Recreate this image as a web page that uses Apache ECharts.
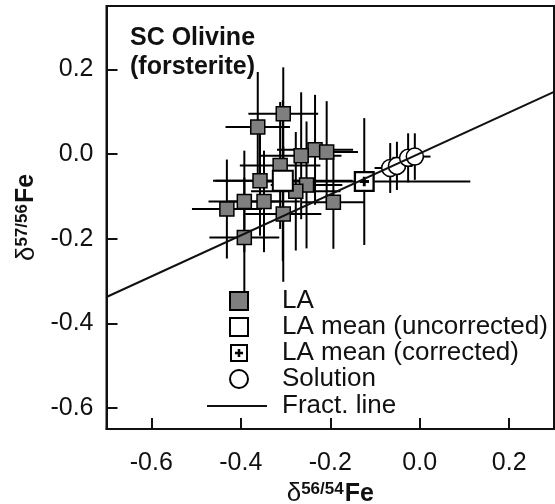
<!DOCTYPE html>
<html>
<head>
<meta charset="utf-8">
<script src="https://cdn.jsdelivr.net/npm/echarts@6/dist/echarts.min.js"></script>
<style>html,body{margin:0;padding:0;background:#fff;}#c{width:555px;height:504px;}</style>
</head>
<body>
<div id="c"></div>
<script>
// LA spot analyses
const laX = [-0.305,-0.362,-0.312,-0.357,-0.392,-0.348,-0.431,-0.305,-0.392,-0.234,-0.208,-0.253,-0.193,-0.265,-0.277];
const laY = [0.095,0.064,-0.027,-0.063,-0.112,-0.112,-0.130,-0.142,-0.197,0.010,0.005,-0.073,-0.114,-0.004,-0.088];
const laXErr = [0.078,0.072,0.090,0.100,0.080,0.080,0.078,0.085,0.078,0.085,0.070,0.080,0.070,0.090,0.100];
const laYErr = [0.110,0.130,0.150,0.130,0.120,0.120,0.117,0.160,0.142,0.130,0.120,0.150,0.110,0.150,0.140];
// LA mean (uncorrected)
const muX = [-0.306], muY = [-0.063], muXErr = [0.156], muYErr = [0.19];
// LA mean (corrected)
const mcX = [-0.124], mcY = [-0.065], mcXErr = [0.237], mcYErr = [0.15];
// Solution
const solX = [-0.066,-0.051,-0.026,-0.011];
const solY = [-0.033,-0.028,-0.009,-0.006];
const solXErr = [0.035,0.035,0.035,0.035];
const solYErr = [0.059,0.057,0.058,0.055];
// Fractionation line
const fracX = [-0.7, 0.3];
const fracY = [-0.338, 0.147];
// Tick values
const xTicks = [-0.6,-0.4,-0.2,0.0,0.2];
const yTicks = [-0.6,-0.4,-0.2,0.0,0.2];

const FONT = 'Liberation Sans, Arial, sans-serif';
const zip = (a,b) => a.map((v,i)=>[v,b[i]]);
const zip4 = (a,b,c,d) => a.map((v,i)=>[v,b[i],c[i],d[i]]);

function errRender(params, api){
  const x = api.value(0), y = api.value(1), ex = api.value(2), ey = api.value(3);
  const l = api.coord([x-ex,y]), r = api.coord([x+ex,y]);
  const t = api.coord([x,y+ey]), b = api.coord([x,y-ey]);
  const st = {stroke:'#000', lineWidth:2};
  return {type:'group', children:[
    {type:'line', shape:{x1:l[0],y1:l[1],x2:r[0],y2:r[1]}, style:st},
    {type:'line', shape:{x1:t[0],y1:t[1],x2:b[0],y2:b[1]}, style:st}
  ]};
}
function errSeries(xs,ys,exs,eys){
  return {type:'custom', renderItem:errRender, encode:{x:0,y:1}, data:zip4(xs,ys,exs,eys), silent:true, clip:false};
}
const crossPath = 'path://M0,0 H20 V20 H0 Z M2.2,2.2 V17.8 H17.8 V2.2 Z M8.6,5.5 H11.4 V8.6 H14.5 V11.4 H11.4 V14.5 H8.6 V11.4 H5.5 V8.6 H8.6 Z';
const linePath = 'path://M0,0 H60 V2 H0 Z';

const richName = {
  d:{fontSize:26, fontFamily:FONT, color:'#111', fontWeight:'normal'},
  s:{fontSize:17, fontFamily:FONT, color:'#111', fontWeight:'bold', verticalAlign:'top', padding:[0,1,0,0]},
  f:{fontSize:25, fontFamily:FONT, color:'#111', fontWeight:'bold'}
};
const axisCommon = {
  type:'value',
  axisLine:{show:true, onZero:false, lineStyle:{color:'#111', width:2}},
  splitLine:{show:false},
  axisTick:{inside:true, length:11, lineStyle:{color:'#111', width:2}},
  axisLabel:{fontSize:25, fontFamily:FONT, color:'#111', formatter:v=>v.toFixed(1)}
};

const chart = echarts.init(document.getElementById('c'), null, {renderer:'canvas'});
chart.setOption({
  animation:false,
  backgroundColor:'#fff',
  title:{text:'SC Olivine\n(forsterite)', left:125, top:19,
    textStyle:{fontSize:25, fontWeight:'bold', fontFamily:FONT, color:'#111', lineHeight:29}},
  grid:{left:106.5, right:1, top:6, bottom:75, outerBoundsMode:'none', containLabel:false,
    show:true, borderColor:'#111', borderWidth:2, backgroundColor:'#fff'},
  xAxis:Object.assign({}, axisCommon, {
    min:-0.7, max:0.3,
    axisTick:Object.assign({}, axisCommon.axisTick, {customValues:xTicks}),
    axisLabel:Object.assign({}, axisCommon.axisLabel, {customValues:xTicks, margin:22}),
    name:'{d|δ}{s|56/54}{f|Fe}', nameLocation:'middle', nameGap:44,
    nameTextStyle:{rich:richName}
  }),
  yAxis:Object.assign({}, axisCommon, {
    min:-0.65, max:0.35,
    axisTick:Object.assign({}, axisCommon.axisTick, {customValues:yTicks}),
    axisLabel:Object.assign({}, axisCommon.axisLabel, {customValues:yTicks, margin:13}),
    name:'{d|δ}{s|57/56}{f|Fe}', nameLocation:'middle', nameGap:62,
    nameTextStyle:{rich:richName}
  }),
  legend:[
    {orient:'vertical', left:224, top:283, itemWidth:18, itemHeight:18, itemGap:0,
     data:['LA','LA mean (uncorrected)','LA mean (corrected)','Solution'],
     textStyle:{fontSize:26, fontFamily:FONT, color:'#111', lineHeight:18, padding:[0,0,0,29]}},
    {orient:'vertical', left:202, top:388, itemWidth:60, itemHeight:18,
     data:[{name:'Fract. line', icon:linePath}],
     textStyle:{fontSize:26, fontFamily:FONT, color:'#111', lineHeight:18, padding:[0,0,0,10]}}
  ],
  series:[
    {name:'Fract. line', type:'line', data:zip(fracX,fracY), symbol:'none', showSymbol:false,
     lineStyle:{color:'#111', width:2}, itemStyle:{color:'#111'}, silent:true},
    errSeries(laX,laY,laXErr,laYErr),
    {name:'LA', type:'scatter', data:zip(laX,laY), symbol:'rect', symbolSize:14,
     itemStyle:{color:'#7f7f7f', borderColor:'#000', borderWidth:1.5, opacity:1}},
    errSeries(muX,muY,muXErr,muYErr),
    {name:'LA mean (uncorrected)', type:'scatter', data:zip(muX,muY), symbol:'rect', symbolSize:20,
     itemStyle:{color:'#fff', borderColor:'#000', borderWidth:2, opacity:1}},
    errSeries(mcX,mcY,mcXErr,mcYErr),
    {type:'scatter', data:zip(mcX,mcY), symbol:'rect', symbolSize:20, silent:true,
     itemStyle:{color:'#fff', opacity:1}},
    {name:'LA mean (corrected)', type:'scatter', data:zip(mcX,mcY), symbol:crossPath, symbolSize:21,
     itemStyle:{color:'#000', opacity:1}},
    errSeries(solX,solY,solXErr,solYErr),
    {name:'Solution', type:'scatter', data:zip(solX,solY), symbol:'circle', symbolSize:17,
     itemStyle:{color:'#fff', borderColor:'#000', borderWidth:1.5, opacity:1}}
  ]
});
</script>
</body>
</html>
